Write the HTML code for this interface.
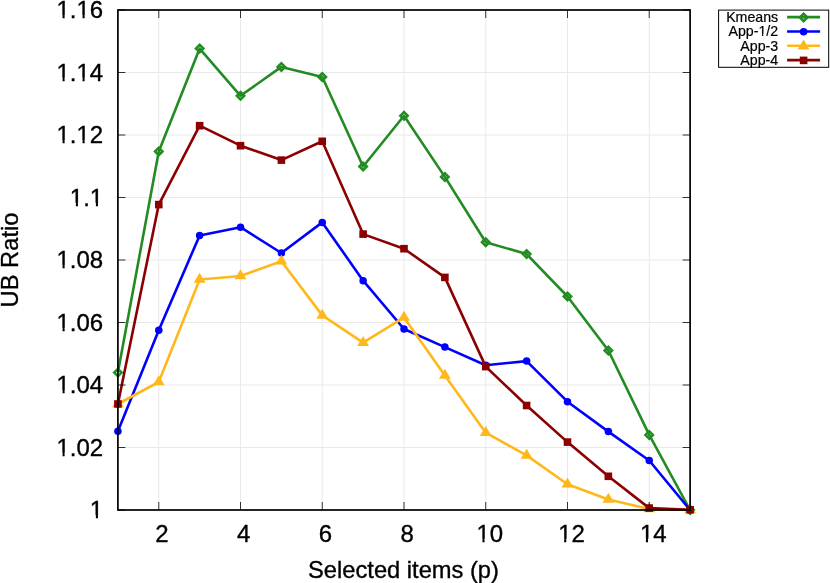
<!DOCTYPE html>
<html><head><meta charset="utf-8"><title>UB Ratio</title>
<style>html,body{margin:0;padding:0;background:#fff}svg{display:block;will-change:transform}text{font-family:"Liberation Sans",sans-serif;fill:#000;stroke:#000;stroke-width:0.35px}</style></head><body>
<svg width="830" height="583" viewBox="0 0 830 583">
<rect width="830" height="583" fill="#fff"/>
<path d="M158.77,10.0V510.0M240.51,10.0V510.0M322.26,10.0V510.0M404.00,10.0V510.0M485.74,10.0V510.0M567.49,10.0V510.0M649.23,10.0V510.0M117.9,510.0H690.1M117.9,447.5H690.1M117.9,385.0H690.1M117.9,322.5H690.1M117.9,260.0H690.1M117.9,197.5H690.1M117.9,135.0H690.1M117.9,72.5H690.1M117.9,10.0H690.1" stroke="#e9e9e9" stroke-width="1" fill="none"/>
<polyline points="117.90,372.60 158.77,151.40 199.64,48.60 240.51,95.80 281.39,66.90 322.26,77.00 363.13,166.50 404.00,115.80 444.87,176.90 485.74,242.20 526.61,254.10 567.49,296.50 608.36,350.50 649.23,434.90 690.10,510.00" fill="none" stroke="#228b22" stroke-width="2.6" stroke-linejoin="round" stroke-linecap="butt"/>
<path d="M114.17,372.60L117.90,368.87L121.63,372.60L117.90,376.33Z" fill="none" stroke="#228b22" stroke-width="2.5" stroke-linejoin="miter"/>
<path d="M155.04,151.40L158.77,147.67L162.50,151.40L158.77,155.13Z" fill="none" stroke="#228b22" stroke-width="2.5" stroke-linejoin="miter"/>
<path d="M195.91,48.60L199.64,44.87L203.37,48.60L199.64,52.33Z" fill="none" stroke="#228b22" stroke-width="2.5" stroke-linejoin="miter"/>
<path d="M236.78,95.80L240.51,92.07L244.24,95.80L240.51,99.53Z" fill="none" stroke="#228b22" stroke-width="2.5" stroke-linejoin="miter"/>
<path d="M277.66,66.90L281.39,63.17L285.12,66.90L281.39,70.63Z" fill="none" stroke="#228b22" stroke-width="2.5" stroke-linejoin="miter"/>
<path d="M318.53,77.00L322.26,73.27L325.99,77.00L322.26,80.73Z" fill="none" stroke="#228b22" stroke-width="2.5" stroke-linejoin="miter"/>
<path d="M359.40,166.50L363.13,162.77L366.86,166.50L363.13,170.23Z" fill="none" stroke="#228b22" stroke-width="2.5" stroke-linejoin="miter"/>
<path d="M400.27,115.80L404.00,112.07L407.73,115.80L404.00,119.53Z" fill="none" stroke="#228b22" stroke-width="2.5" stroke-linejoin="miter"/>
<path d="M441.14,176.90L444.87,173.17L448.60,176.90L444.87,180.63Z" fill="none" stroke="#228b22" stroke-width="2.5" stroke-linejoin="miter"/>
<path d="M482.01,242.20L485.74,238.47L489.47,242.20L485.74,245.93Z" fill="none" stroke="#228b22" stroke-width="2.5" stroke-linejoin="miter"/>
<path d="M522.88,254.10L526.61,250.37L530.34,254.10L526.61,257.83Z" fill="none" stroke="#228b22" stroke-width="2.5" stroke-linejoin="miter"/>
<path d="M563.76,296.50L567.49,292.77L571.22,296.50L567.49,300.23Z" fill="none" stroke="#228b22" stroke-width="2.5" stroke-linejoin="miter"/>
<path d="M604.63,350.50L608.36,346.77L612.09,350.50L608.36,354.23Z" fill="none" stroke="#228b22" stroke-width="2.5" stroke-linejoin="miter"/>
<path d="M645.50,434.90L649.23,431.17L652.96,434.90L649.23,438.63Z" fill="none" stroke="#228b22" stroke-width="2.5" stroke-linejoin="miter"/>
<path d="M686.37,510.00L690.10,506.27L693.83,510.00L690.10,513.73Z" fill="none" stroke="#228b22" stroke-width="2.5" stroke-linejoin="miter"/>
<polyline points="117.90,431.30 158.77,330.20 199.64,235.40 240.51,227.20 281.39,253.00 322.26,222.40 363.13,280.70 404.00,329.00 444.87,347.10 485.74,365.20 526.61,361.10 567.49,401.70 608.36,431.60 649.23,460.50 690.10,510.00" fill="none" stroke="#0000ff" stroke-width="2.6" stroke-linejoin="round" stroke-linecap="butt"/>
<circle cx="117.90" cy="431.30" r="3.75" fill="#0000ff"/>
<circle cx="158.77" cy="330.20" r="3.75" fill="#0000ff"/>
<circle cx="199.64" cy="235.40" r="3.75" fill="#0000ff"/>
<circle cx="240.51" cy="227.20" r="3.75" fill="#0000ff"/>
<circle cx="281.39" cy="253.00" r="3.75" fill="#0000ff"/>
<circle cx="322.26" cy="222.40" r="3.75" fill="#0000ff"/>
<circle cx="363.13" cy="280.70" r="3.75" fill="#0000ff"/>
<circle cx="404.00" cy="329.00" r="3.75" fill="#0000ff"/>
<circle cx="444.87" cy="347.10" r="3.75" fill="#0000ff"/>
<circle cx="485.74" cy="365.20" r="3.75" fill="#0000ff"/>
<circle cx="526.61" cy="361.10" r="3.75" fill="#0000ff"/>
<circle cx="567.49" cy="401.70" r="3.75" fill="#0000ff"/>
<circle cx="608.36" cy="431.60" r="3.75" fill="#0000ff"/>
<circle cx="649.23" cy="460.50" r="3.75" fill="#0000ff"/>
<circle cx="690.10" cy="510.00" r="3.75" fill="#0000ff"/>
<polyline points="117.90,404.00 158.77,382.00 199.64,279.50 240.51,276.00 281.39,261.20 322.26,315.40 363.13,342.60 404.00,317.40 444.87,375.40 485.74,432.70 526.61,455.40 567.49,484.30 608.36,499.50 649.23,509.00 690.10,510.00" fill="none" stroke="#ffb81c" stroke-width="2.6" stroke-linejoin="round" stroke-linecap="butt"/>
<path d="M117.90,397.30L123.80,407.30L112.00,407.30Z" fill="#ffb81c"/>
<path d="M158.77,375.30L164.67,385.30L152.87,385.30Z" fill="#ffb81c"/>
<path d="M199.64,272.80L205.54,282.80L193.74,282.80Z" fill="#ffb81c"/>
<path d="M240.51,269.30L246.41,279.30L234.61,279.30Z" fill="#ffb81c"/>
<path d="M281.39,254.50L287.29,264.50L275.49,264.50Z" fill="#ffb81c"/>
<path d="M322.26,308.70L328.16,318.70L316.36,318.70Z" fill="#ffb81c"/>
<path d="M363.13,335.90L369.03,345.90L357.23,345.90Z" fill="#ffb81c"/>
<path d="M404.00,310.70L409.90,320.70L398.10,320.70Z" fill="#ffb81c"/>
<path d="M444.87,368.70L450.77,378.70L438.97,378.70Z" fill="#ffb81c"/>
<path d="M485.74,426.00L491.64,436.00L479.84,436.00Z" fill="#ffb81c"/>
<path d="M526.61,448.70L532.51,458.70L520.71,458.70Z" fill="#ffb81c"/>
<path d="M567.49,477.60L573.39,487.60L561.59,487.60Z" fill="#ffb81c"/>
<path d="M608.36,492.80L614.26,502.80L602.46,502.80Z" fill="#ffb81c"/>
<path d="M649.23,502.30L655.13,512.30L643.33,512.30Z" fill="#ffb81c"/>
<path d="M690.10,503.30L696.00,513.30L684.20,513.30Z" fill="#ffb81c"/>
<polyline points="117.90,404.00 158.77,204.60 199.64,125.70 240.51,145.70 281.39,160.10 322.26,141.30 363.13,234.10 404.00,248.70 444.87,277.40 485.74,366.60 526.61,405.50 567.49,442.10 608.36,476.30 649.23,508.10 690.10,509.80" fill="none" stroke="#8b0000" stroke-width="2.6" stroke-linejoin="round" stroke-linecap="butt"/>
<rect x="114.10" y="400.20" width="7.6" height="7.6" fill="#8b0000"/>
<rect x="154.97" y="200.80" width="7.6" height="7.6" fill="#8b0000"/>
<rect x="195.84" y="121.90" width="7.6" height="7.6" fill="#8b0000"/>
<rect x="236.71" y="141.90" width="7.6" height="7.6" fill="#8b0000"/>
<rect x="277.59" y="156.30" width="7.6" height="7.6" fill="#8b0000"/>
<rect x="318.46" y="137.50" width="7.6" height="7.6" fill="#8b0000"/>
<rect x="359.33" y="230.30" width="7.6" height="7.6" fill="#8b0000"/>
<rect x="400.20" y="244.90" width="7.6" height="7.6" fill="#8b0000"/>
<rect x="441.07" y="273.60" width="7.6" height="7.6" fill="#8b0000"/>
<rect x="481.94" y="362.80" width="7.6" height="7.6" fill="#8b0000"/>
<rect x="522.81" y="401.70" width="7.6" height="7.6" fill="#8b0000"/>
<rect x="563.69" y="438.30" width="7.6" height="7.6" fill="#8b0000"/>
<rect x="604.56" y="472.50" width="7.6" height="7.6" fill="#8b0000"/>
<rect x="645.43" y="504.30" width="7.6" height="7.6" fill="#8b0000"/>
<rect x="686.30" y="506.00" width="7.6" height="7.6" fill="#8b0000"/>
<path d="M158.77,510.0v-8M158.77,10.0v8M240.51,510.0v-8M240.51,10.0v8M322.26,510.0v-8M322.26,10.0v8M404.00,510.0v-8M404.00,10.0v8M485.74,510.0v-8M485.74,10.0v8M567.49,510.0v-8M567.49,10.0v8M649.23,510.0v-8M649.23,10.0v8M117.9,510.0h7.5M690.1,510.0h-7.5M117.9,447.5h7.5M690.1,447.5h-7.5M117.9,385.0h7.5M690.1,385.0h-7.5M117.9,322.5h7.5M690.1,322.5h-7.5M117.9,260.0h7.5M690.1,260.0h-7.5M117.9,197.5h7.5M690.1,197.5h-7.5M117.9,135.0h7.5M690.1,135.0h-7.5M117.9,72.5h7.5M690.1,72.5h-7.5M117.9,10.0h7.5M690.1,10.0h-7.5" stroke="#000" stroke-width="0.8" fill="none"/>
<rect x="117.9" y="10.0" width="572.2" height="500.0" fill="none" stroke="#000" stroke-width="1.7"/>
<text x="103.2" y="518.4" font-size="24" text-anchor="end">1</text>
<text x="103.2" y="455.9" font-size="24" text-anchor="end">1.02</text>
<text x="103.2" y="393.4" font-size="24" text-anchor="end">1.04</text>
<text x="103.2" y="330.9" font-size="24" text-anchor="end">1.06</text>
<text x="103.2" y="268.4" font-size="24" text-anchor="end">1.08</text>
<text x="103.2" y="205.9" font-size="24" text-anchor="end">1.1</text>
<text x="103.2" y="143.4" font-size="24" text-anchor="end">1.12</text>
<text x="103.2" y="80.9" font-size="24" text-anchor="end">1.14</text>
<text x="103.2" y="18.4" font-size="24" text-anchor="end">1.16</text>
<text x="161.97" y="541.8" font-size="24" text-anchor="middle">2</text>
<text x="243.71" y="541.8" font-size="24" text-anchor="middle">4</text>
<text x="325.46" y="541.8" font-size="24" text-anchor="middle">6</text>
<text x="407.20" y="541.8" font-size="24" text-anchor="middle">8</text>
<text x="489.74" y="541.8" font-size="24" text-anchor="middle">10</text>
<text x="571.49" y="541.8" font-size="24" text-anchor="middle">12</text>
<text x="653.23" y="541.8" font-size="24" text-anchor="middle">14</text>
<text x="403.5" y="578.0" font-size="23.7" text-anchor="middle">Selected items (p)</text>
<text transform="translate(17.6,260) rotate(-90)" font-size="23.7" text-anchor="middle">UB Ratio</text>
<rect x="718.6" y="10.1" width="110.1" height="57.2" fill="none" stroke="#000" stroke-width="1"/>
<text x="778.2" y="21.8" font-size="14.2" style="stroke-width:0.2px" text-anchor="end">Kmeans</text>
<path d="M787.1,17.1H820.1" stroke="#228b22" stroke-width="2.6" fill="none"/>
<path d="M799.87,17.40L803.60,13.67L807.33,17.40L803.60,21.13Z" fill="none" stroke="#228b22" stroke-width="2.5" stroke-linejoin="miter"/>
<text x="778.2" y="36.2" font-size="14.2" style="stroke-width:0.2px" text-anchor="end">App-1/2</text>
<path d="M787.1,31.5H820.1" stroke="#0000ff" stroke-width="2.6" fill="none"/>
<circle cx="803.60" cy="31.80" r="3.75" fill="#0000ff"/>
<text x="778.2" y="50.5" font-size="14.2" style="stroke-width:0.2px" text-anchor="end">App-3</text>
<path d="M787.1,45.8H820.1" stroke="#ffb81c" stroke-width="2.6" fill="none"/>
<path d="M803.60,39.40L809.50,49.40L797.70,49.40Z" fill="#ffb81c"/>
<text x="778.2" y="64.8" font-size="14.2" style="stroke-width:0.2px" text-anchor="end">App-4</text>
<path d="M787.1,60.1H820.1" stroke="#8b0000" stroke-width="2.6" fill="none"/>
<rect x="799.80" y="56.60" width="7.6" height="7.6" fill="#8b0000"/>
<path d="M90.66,515.31H95.88V520.00H90.66ZM98.00,515.31H102.91V520.00H98.00ZM57.30,452.81H62.52V457.50H57.30ZM64.64,452.81H69.55V457.50H64.64ZM57.30,390.31H62.52V395.00H57.30ZM64.64,390.31H69.55V395.00H64.64ZM57.30,327.81H62.52V332.50H57.30ZM64.64,327.81H69.55V332.50H64.64ZM57.30,265.31H62.52V270.00H57.30ZM64.64,265.31H69.55V270.00H64.64ZM70.65,202.81H75.86V207.50H70.65ZM77.98,202.81H82.89V207.50H77.98ZM90.66,202.81H95.88V207.50H90.66ZM98.00,202.81H102.91V207.50H98.00ZM57.30,140.31H62.52V145.00H57.30ZM64.64,140.31H69.55V145.00H64.64ZM77.32,140.31H82.53V145.00H77.32ZM84.65,140.31H89.56V145.00H84.65ZM57.30,77.81H62.52V82.50H57.30ZM64.64,77.81H69.55V82.50H64.64ZM77.32,77.81H82.53V82.50H77.32ZM84.65,77.81H89.56V82.50H84.65ZM57.30,15.31H62.52V20.00H57.30ZM64.64,15.31H69.55V20.00H64.64ZM77.32,15.31H82.53V20.00H77.32ZM84.65,15.31H89.56V20.00H84.65ZM477.21,538.71H482.42V543.40H477.21ZM484.54,538.71H489.45V543.40H484.54ZM558.96,538.71H564.17V543.40H558.96ZM566.29,538.71H571.20V543.40H566.29ZM640.70,538.71H645.91V543.40H640.70ZM648.03,538.71H652.94V543.40H648.03ZM758.94,33.84H762.02V37.80H758.94ZM763.28,33.84H766.18V37.80H763.28Z" fill="#fff"/>
</svg></body></html>
